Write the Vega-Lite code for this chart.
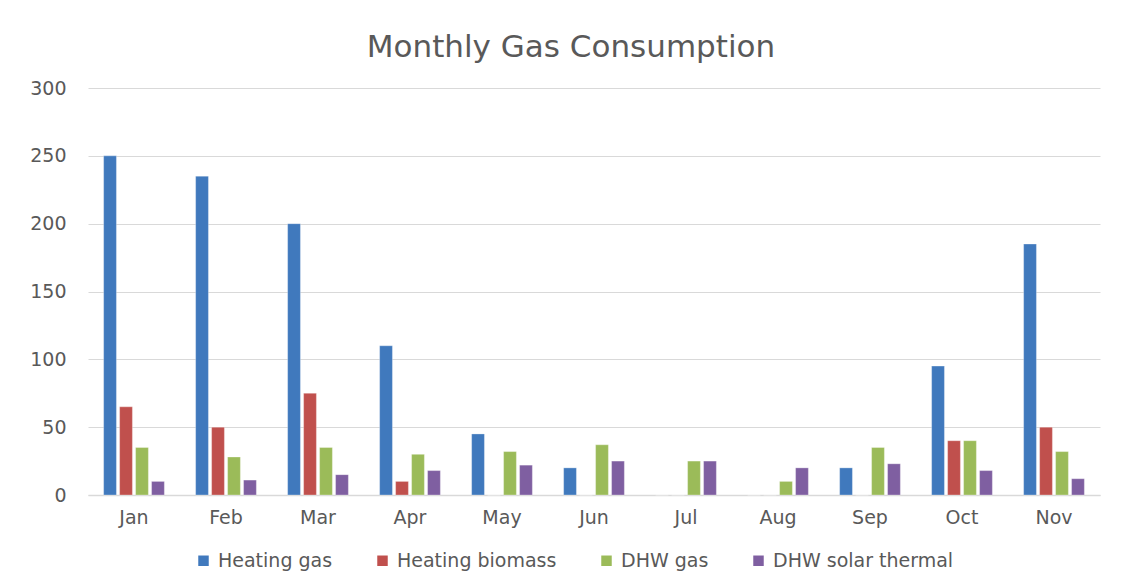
{
  "$schema": "https://vega.github.io/schema/vega-lite/v6.json",
  "autosize": {"type": "none"},
  "width": 1012,
  "height": 407,
  "padding": {"left": 88, "top": 88, "right": 24, "bottom": 90},
  "background": "white",
  "title": {
    "text": "Monthly Gas Consumption",
    "font": "DejaVu Sans",
    "fontSize": 31,
    "fontWeight": "normal",
    "color": "#595959",
    "anchor": "middle",
    "dx": -23,
    "offset": 15
  },
  "data": {
    "values": [
      {"month": "Jan", "series": "Heating gas", "value": 250},
      {"month": "Jan", "series": "Heating biomass", "value": 65},
      {"month": "Jan", "series": "DHW gas", "value": 35},
      {"month": "Jan", "series": "DHW solar thermal", "value": 10},
      {"month": "Feb", "series": "Heating gas", "value": 235},
      {"month": "Feb", "series": "Heating biomass", "value": 50},
      {"month": "Feb", "series": "DHW gas", "value": 28},
      {"month": "Feb", "series": "DHW solar thermal", "value": 11},
      {"month": "Mar", "series": "Heating gas", "value": 200},
      {"month": "Mar", "series": "Heating biomass", "value": 75},
      {"month": "Mar", "series": "DHW gas", "value": 35},
      {"month": "Mar", "series": "DHW solar thermal", "value": 15},
      {"month": "Apr", "series": "Heating gas", "value": 110},
      {"month": "Apr", "series": "Heating biomass", "value": 10},
      {"month": "Apr", "series": "DHW gas", "value": 30},
      {"month": "Apr", "series": "DHW solar thermal", "value": 18},
      {"month": "May", "series": "Heating gas", "value": 45},
      {"month": "May", "series": "Heating biomass", "value": 0},
      {"month": "May", "series": "DHW gas", "value": 32},
      {"month": "May", "series": "DHW solar thermal", "value": 22},
      {"month": "Jun", "series": "Heating gas", "value": 20},
      {"month": "Jun", "series": "Heating biomass", "value": 0},
      {"month": "Jun", "series": "DHW gas", "value": 37},
      {"month": "Jun", "series": "DHW solar thermal", "value": 25},
      {"month": "Jul", "series": "Heating gas", "value": 0},
      {"month": "Jul", "series": "Heating biomass", "value": 0},
      {"month": "Jul", "series": "DHW gas", "value": 25},
      {"month": "Jul", "series": "DHW solar thermal", "value": 25},
      {"month": "Aug", "series": "Heating gas", "value": 0},
      {"month": "Aug", "series": "Heating biomass", "value": 0},
      {"month": "Aug", "series": "DHW gas", "value": 10},
      {"month": "Aug", "series": "DHW solar thermal", "value": 20},
      {"month": "Sep", "series": "Heating gas", "value": 20},
      {"month": "Sep", "series": "Heating biomass", "value": 0},
      {"month": "Sep", "series": "DHW gas", "value": 35},
      {"month": "Sep", "series": "DHW solar thermal", "value": 23},
      {"month": "Oct", "series": "Heating gas", "value": 95},
      {"month": "Oct", "series": "Heating biomass", "value": 40},
      {"month": "Oct", "series": "DHW gas", "value": 40},
      {"month": "Oct", "series": "DHW solar thermal", "value": 18},
      {"month": "Nov", "series": "Heating gas", "value": 185},
      {"month": "Nov", "series": "Heating biomass", "value": 50},
      {"month": "Nov", "series": "DHW gas", "value": 32},
      {"month": "Nov", "series": "DHW solar thermal", "value": 12}
    ]
  },
  "mark": {"type": "bar", "stroke": "white", "strokeWidth": 0.5, "strokeOpacity": 0.6},
  "encoding": {
    "x": {
      "field": "month",
      "type": "nominal",
      "sort": ["Jan", "Feb", "Mar", "Apr", "May", "Jun", "Jul", "Aug", "Sep", "Oct", "Nov"],
      "scale": {"paddingInner": 0.34, "paddingOuter": 0.17},
      "axis": {
        "title": null,
        "labelAngle": 0,
        "labelFont": "DejaVu Sans",
        "labelFontSize": 19,
        "labelColor": "#595959",
        "labelPadding": 13,
        "ticks": false,
        "domainColor": "#D9D9D9",
        "domainWidth": 1.5,
        "grid": false
      }
    },
    "xOffset": {
      "field": "series",
      "type": "nominal",
      "sort": ["Heating gas", "Heating biomass", "DHW gas", "DHW solar thermal"],
      "scale": {"paddingInner": 0.2, "paddingOuter": 0}
    },
    "y": {
      "field": "value",
      "type": "quantitative",
      "scale": {"domain": [0, 300], "nice": false},
      "axis": {
        "title": null,
        "values": [0, 50, 100, 150, 200, 250, 300],
        "labelFont": "DejaVu Sans",
        "labelFontSize": 19,
        "labelColor": "#595959",
        "labelPadding": 22,
        "ticks": false,
        "domain": false,
        "gridColor": "#D9D9D9",
        "gridWidth": 1.2
      }
    },
    "color": {
      "field": "series",
      "type": "nominal",
      "sort": ["Heating gas", "Heating biomass", "DHW gas", "DHW solar thermal"],
      "scale": {
        "domain": ["Heating gas", "Heating biomass", "DHW gas", "DHW solar thermal"],
        "range": ["#4079BD", "#C0504D", "#9BBB59", "#7F5FA1"]
      },
      "legend": {
        "title": null,
        "orient": "none",
        "direction": "horizontal",
        "legendX": 106,
        "legendY": 463,
        "symbolType": "square",
        "symbolSize": 110,
        "symbolStrokeWidth": 0,
        "labelFont": "DejaVu Sans",
        "labelFontSize": 19,
        "labelLimit": 400,
        "labelColor": "#595959",
        "labelOffset": 5,
        "columnPadding": 40
      }
    }
  },
  "config": {
    "view": {"stroke": null}
  }
}
